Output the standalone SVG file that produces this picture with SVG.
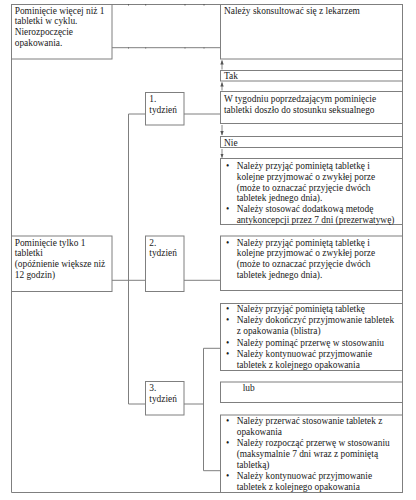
<svg xmlns="http://www.w3.org/2000/svg" width="416" height="500" viewBox="0 0 416 500">
<defs>
<style>
.bx{fill:#fff;stroke:#7f7f7f;stroke-width:1}
.ln{fill:none;stroke:#7f7f7f;stroke-width:1}
.ar{fill:none;stroke:#666;stroke-width:0.8}
.tk{stroke:#555;stroke-width:1}
text{font-family:"Liberation Serif","Times New Roman",serif;font-size:9.4px;fill:#1a1a1a}
</style>
<marker id="ah" markerWidth="5" markerHeight="5" refX="4" refY="2.5" orient="auto" markerUnits="userSpaceOnUse">
<path d="M0,0.8 L4.5,2.5 L0,4.2 Z" fill="#555" stroke="none"/>
</marker>
</defs>
<rect width="416" height="500" fill="#fff"/>
<g id="frame">
<path class="ln" d="M11.5,492.5 V4.5 H402.5 V492.5 H11.5"/>
<g class="tk">
<line x1="128.5" y1="4" x2="128.5" y2="5.5"/>
<line x1="145.7" y1="4" x2="145.7" y2="5.5"/>
<line x1="185" y1="4" x2="185" y2="5.5"/>
<line x1="204" y1="4" x2="204" y2="5.5"/>
<line x1="128.5" y1="47" x2="128.5" y2="48.5"/>
<line x1="145.7" y1="47" x2="145.7" y2="48.5"/>
<line x1="185" y1="47" x2="185" y2="48.5"/>
<line x1="204" y1="47" x2="204" y2="48.5"/>
</g>
</g>
<g id="connectors">
<path class="ln" d="M112,47.7 H220.5"/>
<path class="ln" d="M184,114 H220.5"/>
<path class="ln" d="M145.5,114 H128.5 V404 H145.5"/>
<path class="ln" d="M112,280.3 H145.5"/>
<path class="ln" d="M184,280.3 H220.5"/>
<path class="ln" d="M184,404 H203.5"/>
<path class="ln" d="M220.5,348.3 H203.5 V470.7 H220.5"/>
<line class="ar" x1="222" y1="69.5" x2="222" y2="60.5" marker-end="url(#ah)"/>
<line class="ar" x1="222" y1="90.5" x2="222" y2="82.5" marker-end="url(#ah)"/>
<line class="ar" x1="222" y1="125" x2="222" y2="135" marker-end="url(#ah)"/>
<line class="ar" x1="222" y1="149" x2="222" y2="157.5" marker-end="url(#ah)"/>
</g>
<g id="n-more">
<rect class="bx" x="11.5" y="4.5" width="100.5" height="54.5"/>
<text x="14.7" y="13.5">Pominięcie więcej niż 1</text>
<text x="14.7" y="24.3">tabletki w cyklu.</text>
<text x="14.7" y="35.1">Nierozpoczęcie</text>
<text x="14.7" y="45.9">opakowania.</text>
</g>
<g id="n-consult">
<rect class="bx" x="220.5" y="4.5" width="182" height="54.5"/>
<text x="224" y="13.5">Należy skonsultować się z lekarzem</text>
</g>
<g id="n-tak">
<rect class="bx" x="220.5" y="70.5" width="182" height="10.5"/>
<text x="224" y="79.3">Tak</text>
</g>
<g id="n-question">
<rect class="bx" x="220.5" y="91.5" width="182" height="32"/>
<text x="224" y="101.8">W tygodniu poprzedzającym pominięcie</text>
<text x="224" y="112.6">tabletki doszło do stosunku seksualnego</text>
</g>
<g id="n-nie">
<rect class="bx" x="220.5" y="136.5" width="182" height="11"/>
<text x="224" y="146.3">Nie</text>
</g>
<g id="n-week1-actions">
<rect class="bx" x="220.5" y="158.5" width="182" height="66"/>
<text x="226" y="169">•</text>
<text x="236.7" y="169">Należy przyjąć pominiętą tabletkę i</text>
<text x="236.7" y="179.8">kolejne przyjmować o zwykłej porze</text>
<text x="236.7" y="190.6">(może to oznaczać przyjęcie dwóch</text>
<text x="236.7" y="201.4">tabletek jednego dnia).</text>
<text x="226" y="212.2">•</text>
<text x="236.7" y="212.2">Należy stosować dodatkową metodę</text>
<text x="236.7" y="223">antykoncepcji przez 7 dni (prezerwatywę)</text>
</g>
<g id="n-week1">
<rect class="bx" x="145.5" y="92.5" width="38.5" height="32.5"/>
<text x="149.3" y="101.8">1.</text>
<text x="149.3" y="112.6">tydzień</text>
</g>
<g id="n-single">
<rect class="bx" x="11.5" y="236" width="100.5" height="55.5"/>
<text x="14.7" y="245.5">Pominięcie tylko 1</text>
<text x="14.7" y="256.3">tabletki</text>
<text x="14.7" y="267.1">(opóźnienie większe niż</text>
<text x="14.7" y="277.9">12 godzin)</text>
</g>
<g id="n-week2">
<rect class="bx" x="145.5" y="236" width="38.5" height="55.5"/>
<text x="149.3" y="245.5">2.</text>
<text x="149.3" y="256.3">tydzień</text>
</g>
<g id="n-week2-actions">
<rect class="bx" x="220.5" y="236" width="182" height="54.5"/>
<text x="226" y="245.5">•</text>
<text x="236.7" y="245.5">Należy przyjąć pominiętą tabletkę i</text>
<text x="236.7" y="256.3">kolejne przyjmować o zwykłej porze</text>
<text x="236.7" y="267.1">(może to oznaczać przyjęcie dwóch</text>
<text x="236.7" y="277.9">tabletek jednego dnia).</text>
</g>
<g id="n-week3">
<rect class="bx" x="145.5" y="381.5" width="38.5" height="33.5"/>
<text x="149.3" y="391">3.</text>
<text x="149.3" y="401.8">tydzień</text>
</g>
<g id="n-week3-option1">
<rect class="bx" x="220.5" y="303.5" width="182" height="67"/>
<text x="226" y="312">•</text>
<text x="236.7" y="312">Należy przyjąć pominiętą tabletkę</text>
<text x="226" y="323.2">•</text>
<text x="236.7" y="323.2">Należy dokończyć przyjmowanie tabletek</text>
<text x="236.7" y="334.4">z opakowania (blistra)</text>
<text x="226" y="345.6">•</text>
<text x="236.7" y="345.6">Należy pominąć przerwę w stosowaniu</text>
<text x="226" y="356.8">•</text>
<text x="236.7" y="356.8">Należy kontynuować przyjmowanie</text>
<text x="236.7" y="368">tabletek z kolejnego opakowania</text>
</g>
<g id="n-lub">
<rect class="bx" x="220.5" y="382" width="182" height="20.5"/>
<text x="242.7" y="391">lub</text>
</g>
<g id="n-week3-option2">
<rect class="bx" x="220.5" y="415" width="182" height="77.5"/>
<text x="226" y="424">•</text>
<text x="236.7" y="424">Należy przerwać stosowanie tabletek z</text>
<text x="236.7" y="435">opakowania</text>
<text x="226" y="446.3">•</text>
<text x="236.7" y="446.3">Należy rozpocząć przerwę w stosowaniu</text>
<text x="236.7" y="457.3">(maksymalnie 7 dni wraz z pominiętą</text>
<text x="236.7" y="468.3">tabletką)</text>
<text x="226" y="479.3">•</text>
<text x="236.7" y="479.3">Należy kontynuować przyjmowanie</text>
<text x="236.7" y="490.3">tabletek z kolejnego opakowania</text>
</g>
</svg>
